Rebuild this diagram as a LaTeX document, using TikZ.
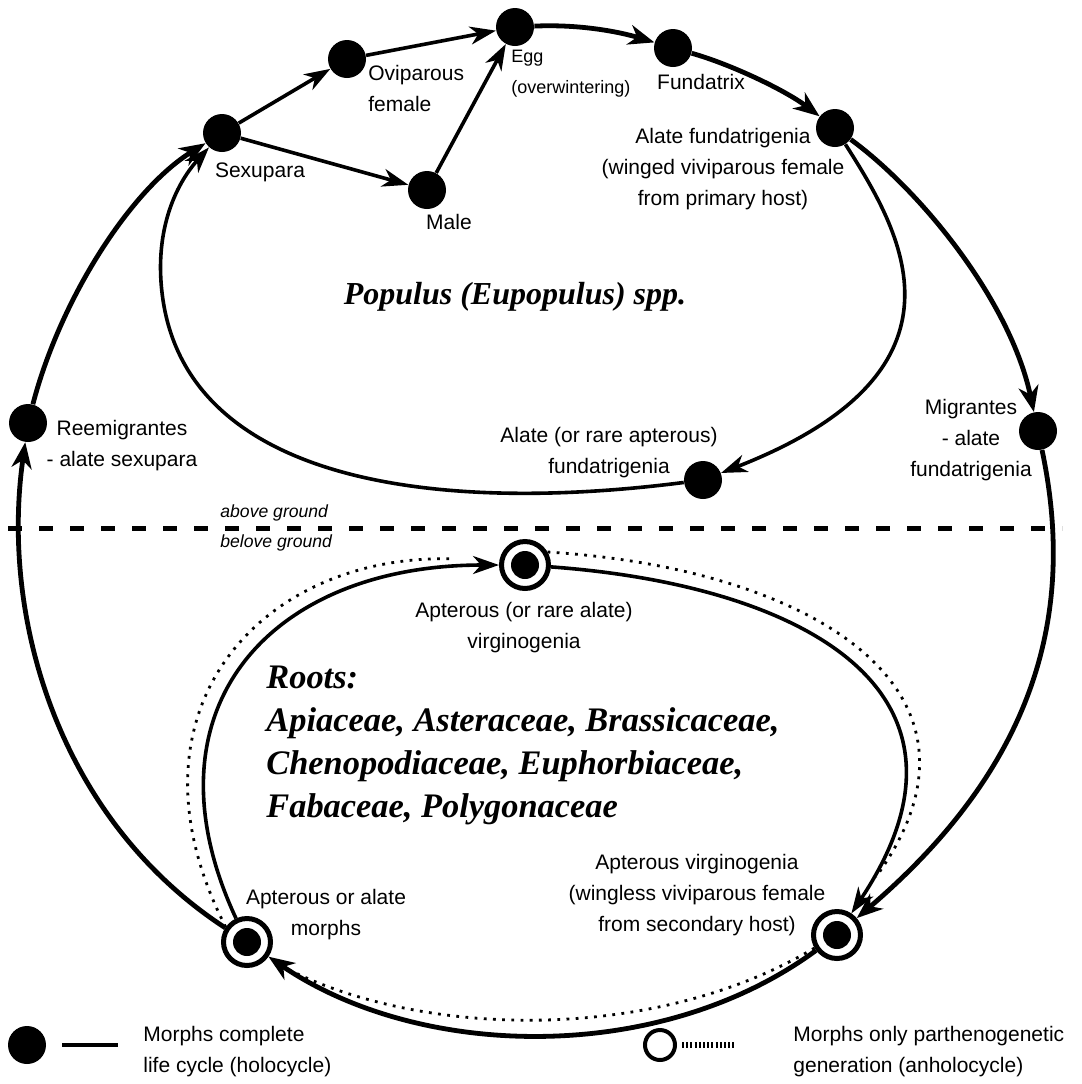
\documentclass[tikz,border=0pt]{standalone}
\usepackage{fontspec}
\setmainfont{Liberation Sans}
\newfontfamily\hostfont{Liberation Serif}
\usetikzlibrary{arrows.meta}

\begin{document}
\begin{tikzpicture}[x=0.5pt,y=-0.5pt,
  morph/.style={circle,fill=black,inner sep=0pt,minimum size=19pt},
  anmorph/.style={circle,draw=black,line width=2.5pt,fill=white,inner sep=0pt,minimum size=23.5pt,
    path picture={\fill[black] (path picture bounding box.center) circle (7pt);}},
  lbl/.style={inner sep=0pt,font=\fontsize{10.5}{15.5}\selectfont,align=center},
  ground/.style={inner sep=0pt,anchor=west,font=\fontsize{8.8}{10}\selectfont\itshape},
  host/.style={inner sep=0pt,align=left,font=\hostfont\bfseries\itshape\fontsize{17.2}{21.5}\selectfont},
  holo/.style={line width=2.4pt,-{Stealth[length=13pt,width=10pt,inset=4pt]}},
  loopline/.style={line width=1.8pt,-{Stealth[length=13pt,width=9pt,inset=4pt]}},
  parth/.style={line width=1.4pt,dash pattern=on 1.4pt off 3.2pt}]
\useasboundingbox (0,0) rectangle (1082,1084);

\node[morph] (egg) at (515,27) {};
\node[morph] (fund) at (673,48) {};
\node[morph] (alfund) at (835,128) {};
\node[morph] (ovip) at (347,59) {};
\node[morph] (sexu) at (222,133) {};
\node[morph] (male) at (427,190) {};
\node[morph] (migr) at (1038,431) {};
\node[morph] (reem) at (28,423) {};
\node[morph] (alrare) at (703,480) {};
\node[anmorph] (vtop) at (525,565) {};
\node[anmorph] (vright) at (837,935) {};
\node[anmorph] (vleft) at (247,942) {};

\node[lbl,anchor=west,align=left,font=\fontsize{9}{15.5}\selectfont] (eggtxt) at (511,74) {Egg\\(overwintering)};
\node[lbl,anchor=west,align=left] (oviptxt) at (368,88) {Oviparous\\female};
\node[lbl] (fundtxt) at (701,82) {Fundatrix};
\node[lbl] (alfundtxt) at (723,169) {Alate fundatrigenia\\(winged viviparous female\\from primary host)};
\node[lbl] (sexutxt) at (260,172) {Sexupara};
\node[lbl] (maletxt) at (449,222) {Male};
\node[host,font=\hostfont\bfseries\itshape\fontsize{16}{20}\selectfont] (poptxt) at (515,297) {Populus (Eupopulus) spp.};
\node[lbl] (migrtxt) at (971,440) {Migrantes\\- alate\\fundatrigenia};
\node[lbl] (reemtxt) at (122,446) {Reemigrantes\\- alate sexupara};
\node[lbl] (alraretxt) at (609,453) {Alate (or rare apterous)\\fundatrigenia};
\node[ground] (abovetxt) at (220,513) {above ground};
\node[ground] (belowtxt) at (220,543) {belove ground};
\node[lbl] (vtoptxt) at (524,628) {Apterous (or rare alate)\\virginogenia};
\node[host,anchor=west] (rootstxt) at (266,745) {Roots:\\Apiaceae, Asteraceae, Brassicaceae,\\Chenopodiaceae, Euphorbiaceae,\\Fabaceae, Polygonaceae};
\node[lbl] (vrighttxt) at (697,895) {Apterous virginogenia\\(wingless viviparous female\\from secondary host)};
\node[lbl] (vlefttxt) at (326,915) {Apterous or alate\\morphs};

\coordinate (gl) at (8,528);
\coordinate (gr) at (1062,528);
\draw[line width=2.5pt,dash pattern=on 7pt off 8.5pt] (gl) -- (gr);

\draw[loopline] (sexu) -- (ovip);
\draw[loopline] (ovip) -- (egg);
\draw[loopline] (sexu) -- (male);
\draw[loopline] (male) -- (egg);
\draw[holo] (egg) .. controls (580,24) and (620,32) .. (fund);
\draw[holo] (fund) .. controls (730,64) and (785,90) .. (alfund);
\draw[holo] (alfund) .. controls (920,190) and (1010,300) .. (migr);
\draw[holo] (migr) .. controls (1078,620) and (1030,770) .. (vright);
\draw[holo] (vright) .. controls (660,1065) and (420,1060) .. (vleft);
\draw[holo] (vleft) .. controls (60,820) and (0,620) .. (reem);
\draw[holo] (reem) .. controls (60,300) and (130,190) .. (sexu);
\draw[loopline] (alfund) .. controls (900,230) and (985,370) .. (alrare);
\draw[loopline] (alrare) .. controls (430,515) and (190,480) .. (163,300) .. controls (153,233) and (175,185) .. (sexu);
\draw[loopline] (vleft) .. controls (139,710) and (269,565) .. (vtop);
\draw[loopline] (vtop) .. controls (800,585) and (1000,690) .. (vright);

\draw[parth,shorten >=22pt] (vleft.145) .. controls (115,710) and (262,552) .. (vtop.170);
\draw[parth,shorten >=22pt] (vtop.30) .. controls (810,568) and (1012,690) .. (vright.60);
\draw[parth,shorten >=12pt] (vright.-150) .. controls (655,1043) and (425,1038) .. (vleft.-40);

\node[morph] (keyholo) at (27,1045) {};
\coordinate (kha) at (62,1045);
\coordinate (khb) at (118,1045);
\draw[line width=2.2pt] (kha) -- (khb);
\node[lbl,anchor=west,align=left] (keyholotxt) at (143,1052) {Morphs complete\\life cycle (holocycle)};
\node[circle,draw=black,line width=2pt,inner sep=0pt,minimum size=15pt] (keyanho) at (660,1045) {};
\coordinate (kaa) at (682,1045);
\coordinate (kab) at (735,1045);
\draw[line width=2.6pt,dash pattern=on 1pt off 1.1pt] (kaa) -- (kab);
\node[lbl,anchor=west,align=left] (keyanhotxt) at (793,1052) {Morphs only parthenogenetic\\generation (anholocycle)};
\end{tikzpicture}
\end{document}
